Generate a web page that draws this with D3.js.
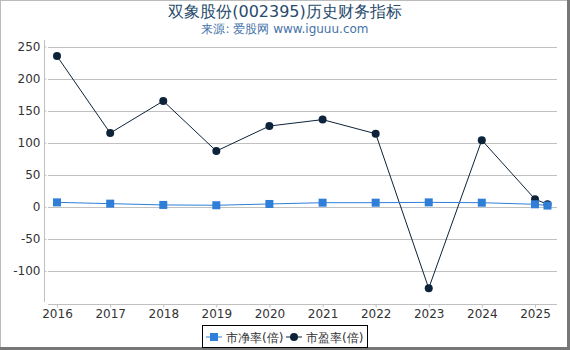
<!DOCTYPE html>
<html>
<head>
<meta charset="utf-8">
<script src="https://cdn.jsdelivr.net/npm/d3@7"></script>
<style>
  body { margin: 0; background: #fff; }
  svg { font-family: "DejaVu Sans", sans-serif; display: block; }
</style>
</head>
<body>
<div id="chart-area"></div>
<script>
// 双象股份 历史财务指标
var width = 570, height = 350;
var margin = { left: 44, right: 13, top: 40, bottom: 46 };

let dates = ["2016-01-01","2017-01-01","2018-01-01","2019-01-01","2020-01-01","2021-01-01",
             "2022-01-01","2023-01-01","2024-01-01","2025-01-01","2025-03-28"]
let pb = [7, 5, 3, 2.5, 4.5, 6.5, 6.5, 7, 6.5, 4, 2]
let pe = [235, 115, 165, 87, 126, 136, 114, -127, 104, 12, 4]
let yTicks = [-100, -50, 0, 50, 100, 150, 200, 250]
let xTicks = ["2016","2017","2018","2019","2020","2021","2022","2023","2024","2025"]
let seriesNames = ["市净率(倍)", "市盈率(倍)"]
let colors = ["#2f7ed8", "#0d233a"]

let parseDate = d3.timeParse("%Y-%m-%d")

const svg = d3.select("#chart-area").append("svg")
    .attr("width", width)
    .attr("height", height)

// frame with shadow on right / bottom
svg.append("rect").attr("x", 0.5).attr("y", 0.5).attr("width", width - 3).attr("height", height - 3)
    .attr("fill", "#fff").attr("stroke", "#bbb")
svg.append("rect").attr("x", width - 3).attr("y", 0).attr("width", 3).attr("height", height).attr("fill", "#777")
svg.append("rect").attr("x", 0).attr("y", height - 3).attr("width", width).attr("height", 3).attr("fill", "#777")

svg.append("text").attr("x", 285).attr("y", 17).attr("text-anchor", "middle")
    .attr("font-size", 16).attr("fill", "#274b6d").text("双象股份(002395)历史财务指标")
svg.append("text").attr("x", 285).attr("y", 33).attr("text-anchor", "middle")
    .attr("font-size", 12).attr("fill", "#4572a7").text("来源: 爱股网 www.iguuu.com")

const x = d3.scaleTime()
    .domain([parseDate("2016-01-01"), parseDate("2025-01-01")])
    .range([57, 535])

const y = d3.scaleLinear()
    .domain([-100, 250])
    .range([271, 46.5])

const plotLeft = 48, plotRight = 557, plotBottom = 304

// gridlines
svg.append("g").selectAll("line").data(yTicks).join("line")
    .attr("x1", plotLeft).attr("x2", plotRight)
    .attr("y1", d => Math.round(y(d)) + 0.5).attr("y2", d => Math.round(y(d)) + 0.5)
    .attr("stroke", "#c0c0c0")

// y axis
svg.append("line").attr("x1", 44.5).attr("x2", 44.5).attr("y1", 40).attr("y2", 302).attr("stroke", "#c0c0c0")
const yAxis = svg.append("g").attr("transform", "translate(44.5,0)")
    .call(d3.axisRight(y).tickValues(yTicks).tickSize(2).tickFormat(d => String(d)))
yAxis.select(".domain").remove()
yAxis.selectAll(".tick line").attr("stroke", "#c0c0c0")
yAxis.selectAll(".tick text").attr("x", -4).attr("text-anchor", "end")
    .attr("font-size", 12).attr("fill", "#333").attr("font-family", "DejaVu Sans, sans-serif")

// x axis
svg.append("line").attr("x1", plotLeft).attr("x2", plotRight).attr("y1", plotBottom + 0.5).attr("y2", plotBottom + 0.5)
    .attr("stroke", "#c0c0c0")
const xAxis = svg.append("g").attr("transform", "translate(0," + (plotBottom + 0.5) + ")")
    .call(d3.axisBottom(x).tickValues(xTicks.map(t => parseDate(t + "-01-01"))).tickSize(3)
        .tickFormat(d3.timeFormat("%Y")))
xAxis.select(".domain").remove()
xAxis.selectAll(".tick line").attr("stroke", "#c0c0c0")
xAxis.selectAll(".tick text").attr("y", 5).attr("font-size", 12).attr("fill", "#333")
    .attr("font-family", "DejaVu Sans, sans-serif")

const line = d3.line().x(d => x(d.date)).y(d => y(d.v))

const pbData = dates.map((d, i) => ({ date: parseDate(d), v: pb[i] }))
const peData = dates.map((d, i) => ({ date: parseDate(d), v: pe[i] }))

// PE series
svg.append("path").datum(peData).attr("d", line).attr("fill", "none")
    .attr("stroke", colors[1]).attr("stroke-width", 1)
svg.append("g").selectAll("circle").data(peData).join("circle")
    .attr("cx", d => x(d.date)).attr("cy", d => y(d.v)).attr("r", 4).attr("fill", colors[1])

// PB series
svg.append("path").datum(pbData).attr("d", line).attr("fill", "none")
    .attr("stroke", colors[0]).attr("stroke-width", 1)
svg.append("g").selectAll("rect").data(pbData).join("rect")
    .attr("x", d => x(d.date) - 4).attr("y", d => y(d.v) - 4).attr("width", 8).attr("height", 8)
    .attr("fill", colors[0])

// legend
const lg = svg.append("g")
lg.append("rect").attr("x", 202.5).attr("y", 325.5).attr("width", 165).attr("height", 22)
    .attr("fill", "#fff").attr("stroke", "#000")
const items = [{ name: seriesNames[0], c: colors[0], x: 206 }, { name: seriesNames[1], c: colors[1], x: 286 }]
items.forEach((it, i) => {
  lg.append("line").attr("x1", it.x).attr("x2", it.x + 16).attr("y1", 337).attr("y2", 337)
      .attr("stroke", it.c).attr("stroke-width", 1)
  if (i == 0) {
    lg.append("rect").attr("x", it.x + 4).attr("y", 333).attr("width", 8).attr("height", 8).attr("fill", it.c)
  } else {
    lg.append("circle").attr("cx", it.x + 8).attr("cy", 337).attr("r", 4).attr("fill", it.c)
  }
  lg.append("text").attr("x", it.x + 20).attr("y", 341.5).attr("font-size", 12).attr("fill", "#333")
      .text(it.name)
})
</script>
</body>
</html>
